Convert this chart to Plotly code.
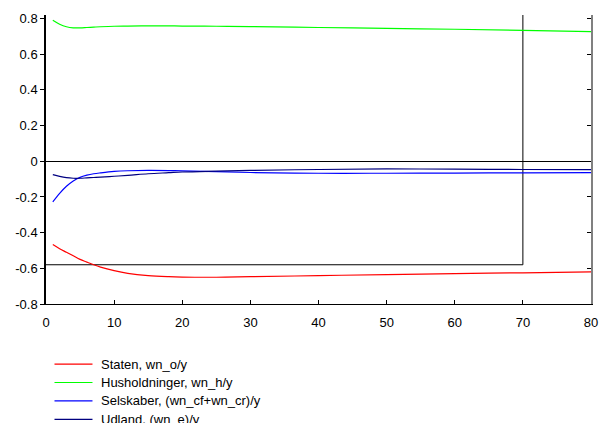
import plotly.graph_objects as go

# Years after the shock
years = [1, 2, 3, 4, 5, 6, 7, 8, 10, 12, 15, 18, 20, 25, 30, 40, 50, 60, 70, 80]

# Net wealth shares of output, by sector
staten = [-0.467, -0.49, -0.51, -0.53, -0.55, -0.565, -0.58, -0.593, -0.613, -0.628,
          -0.641, -0.647, -0.649, -0.65, -0.647, -0.641, -0.635, -0.63, -0.625, -0.62]
husholdninger = [0.79, 0.768, 0.754, 0.748, 0.748, 0.75, 0.752, 0.754, 0.757, 0.758,
                 0.759, 0.759, 0.758, 0.757, 0.755, 0.75, 0.745, 0.74, 0.734, 0.727]
selskaber = [-0.228, -0.18, -0.14, -0.11, -0.09, -0.078, -0.07, -0.065, -0.057, -0.053,
             -0.051, -0.052, -0.054, -0.058, -0.063, -0.067, -0.067, -0.066, -0.065, -0.064]
udland = [-0.075, -0.085, -0.092, -0.095, -0.095, -0.093, -0.091, -0.089, -0.084, -0.079,
          -0.07, -0.064, -0.06, -0.055, -0.051, -0.046, -0.043, -0.044, -0.046, -0.047]

# Reference step line: horizon marker at year 70 and level -0.58
ref_x = [0, 70, 70]
ref_y = [-0.58, -0.58, 0.82]

x_ticks = [0, 10, 20, 30, 40, 50, 60, 70, 80]
y_ticks = [-0.8, -0.6, -0.4, -0.2, 0, 0.2, 0.4, 0.6, 0.8]
y_labels = ["-0.8", "-0.6", "-0.4", "-0.2", "0", "0.2", "0.4", "0.6", "0.8"]

series = [
    ("Staten, wn_o/y", staten, "#ff0000"),
    ("Husholdninger, wn_h/y", husholdninger, "#00ff00"),
    ("Selskaber, (wn_cf+wn_cr)/y", selskaber, "#0000ff"),
    ("Udland, (wn_e)/y", udland, "#000080"),
]

FONT = "Liberation Sans, Arial, sans-serif"
W, H = 599, 423
M_L, M_R, M_T, M_B = 45.5, 8.3, 15.4, 119.0
PLOT_W = W - M_L - M_R
PLOT_H = H - M_T - M_B
PLOT_BOTTOM = H - M_B


def px_to_paper_x(px):
    return (px - M_L) / PLOT_W


def px_to_paper_y(py):
    return (PLOT_BOTTOM - py) / PLOT_H


fig = go.Figure()

fig.add_trace(go.Scatter(x=ref_x, y=ref_y, mode="lines", showlegend=False,
                         line=dict(color="#000000", width=1), hoverinfo="skip"))

for name, vals, color in series:
    fig.add_trace(go.Scatter(x=years, y=vals, mode="lines", name=name, showlegend=False,
                             line=dict(color=color, width=1.2, shape="spline")))

# Mirror axis on the right with inward ticks
fig.add_trace(go.Scatter(x=[None], y=[None], yaxis="y2", showlegend=False))

# Key below the plot: a short line sample and the series name per row
shapes = []
annotations = []
row_top = 364.0
row_step = 18.4
for i, (name, _, color) in enumerate(series):
    yp = px_to_paper_y(row_top + i * row_step)
    shapes.append(dict(type="line", xref="paper", yref="paper",
                       x0=px_to_paper_x(54), x1=px_to_paper_x(92), y0=yp, y1=yp,
                       line=dict(color=color, width=1.2)))
    annotations.append(dict(text=name, xref="paper", yref="paper",
                            x=px_to_paper_x(99), y=yp, xanchor="left", yanchor="middle",
                            showarrow=False, font=dict(family=FONT, size=13, color="#000000")))

fig.update_layout(
    width=W, height=H,
    margin=dict(l=M_L, r=M_R, t=M_T, b=M_B, autoexpand=False),
    paper_bgcolor="white", plot_bgcolor="white",
    font=dict(family=FONT, size=13, color="#000000"),
    xaxis=dict(range=[0, 80], tickvals=x_ticks, ticks="inside", ticklen=4,
               tickcolor="#000000", showline=True, linecolor="#000000", linewidth=1,
               showgrid=False, zeroline=False, ticklabelstandoff=6),
    yaxis=dict(range=[-0.8, 0.82], tickvals=y_ticks, ticktext=y_labels,
               ticks="outside", ticklen=4, tickcolor="#000000",
               showline=True, linecolor="#000000", linewidth=1.5,
               showgrid=False, zeroline=True, zerolinecolor="#000000", zerolinewidth=1),
    yaxis2=dict(range=[-0.8, 0.82], tickvals=y_ticks, showticklabels=False,
                ticks="inside", ticklen=4, tickcolor="#000000",
                showline=True, linecolor="#808080", linewidth=2,
                overlaying="y", side="right", showgrid=False, zeroline=False),
    shapes=shapes,
    annotations=annotations,
    showlegend=False,
)

fig.write_html("out.html")
